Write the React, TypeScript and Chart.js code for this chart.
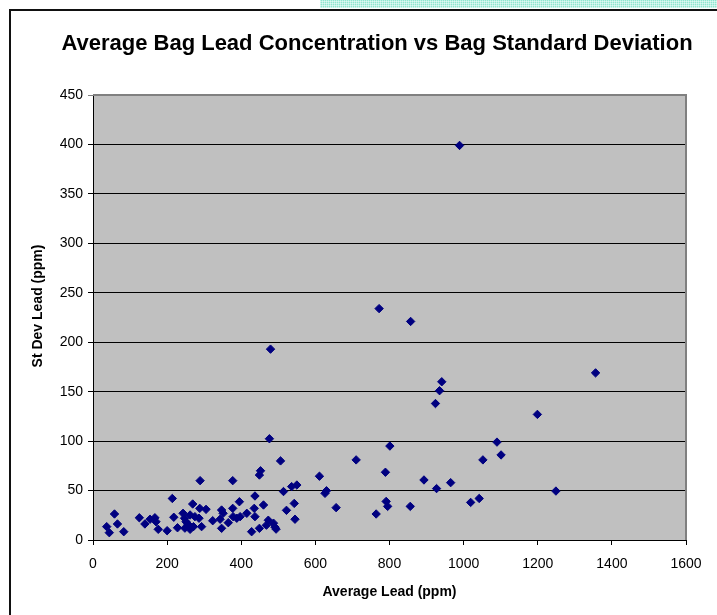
import React, { useEffect, useRef } from "react";
import { Chart, registerables } from "chart.js";

Chart.register(...registerables);

const chartTitle = "Average Bag Lead Concentration vs Bag Standard Deviation";
const xAxisTitle = "Average Lead (ppm)";
const yAxisTitle = "St Dev Lead (ppm)";

const avgLead = [
  37, 44, 58, 66, 83, 125, 140, 154, 167, 170, 176, 200, 214, 218, 228, 243, 247, 251, 257, 248,
  262, 262, 269, 271, 275, 288, 289, 293, 286, 305, 323, 343, 347, 351, 347, 365, 377, 377, 378, 388,
  395, 397, 415, 428, 437, 435, 437, 449, 452, 449, 460, 468, 473, 476, 479, 487, 491, 494, 506, 514,
  522, 536, 543, 545, 550, 611, 626, 630, 656, 710, 764, 772, 789, 791, 795, 801, 856, 857, 893, 924,
  927, 935, 941, 965, 989, 1019, 1042, 1052, 1090, 1101, 1199, 1249, 1356,
];
const stDevLead = [
  13.5, 7.4, 26.3, 16.2, 8.4, 22.5, 16.2, 21, 22.5, 18.5, 10.8, 9.4, 42, 23, 12.4, 27, 22, 18.5, 15.7, 12,
  10.8, 25.3, 36.4, 13.5, 23.6, 32, 60, 13.5, 22, 31, 19.5, 21, 30.3, 27, 11.8, 17.5, 60, 32, 23.6, 22,
  38.7, 23.6, 27, 8.4, 44.5, 32, 23.6, 65.7, 70, 11.8, 35.4, 15, 20, 102.4, 193, 17, 13, 11, 80, 49,
  30, 54, 37, 21, 55.6, 64.5, 47.2, 49.8, 32.7, 81, 26.3, 234, 68.5, 39, 34, 95, 34, 221, 60.7, 138,
  52, 151, 160, 58, 399, 38, 42, 81, 99, 86, 127, 49.5, 169,
];

const xMin = 0, xMax = 1600, xStep = 200;
const yMin = 0, yMax = 450, yStep = 50;

const FONT = "'Liberation Sans', Arial, sans-serif";

const plotBg = {
  id: "plotBg",
  beforeDraw(chart: any) {
    const { ctx, chartArea } = chart;
    ctx.save();
    ctx.fillStyle = "#c0c0c0";
    ctx.fillRect(chartArea.left, chartArea.top, chartArea.right - chartArea.left, chartArea.bottom - chartArea.top);
    ctx.restore();
  },
  beforeDatasetsDraw(chart: any) {
    const { ctx, chartArea } = chart;
    ctx.save();
    ctx.strokeStyle = "#808080";
    ctx.lineWidth = 2;
    ctx.beginPath();
    ctx.moveTo(chartArea.left, chartArea.top);
    ctx.lineTo(chartArea.right, chartArea.top);
    ctx.lineTo(chartArea.right, chartArea.bottom);
    ctx.stroke();
    ctx.restore();
  },
  afterDraw(chart: any) {
    const { ctx } = chart;
    ctx.save();
    ctx.fillStyle = "#000";
    ctx.font = `bold 22px ${FONT}`;
    ctx.textAlign = "center";
    ctx.textBaseline = "middle";
    ctx.fillText(chartTitle, 377, 44);
    ctx.font = `bold 14px ${FONT}`;
    ctx.translate(38, 306);
    ctx.rotate(-Math.PI / 2);
    ctx.fillText(yAxisTitle, 0, 0);
    ctx.restore();
  },
};

export default function App() {
  const ref = useRef<HTMLCanvasElement | null>(null);
  useEffect(() => {
    if (!ref.current) return;
    const data = avgLead.map((x, i) => ({ x, y: stDevLead[i] }));
    const chart = new Chart(ref.current, {
      type: "scatter",
      data: {
        datasets: [
          {
            label: "Bags",
            data,
            pointStyle: "rectRot",
            pointRadius: 4.2,
            pointBorderWidth: 1,
            backgroundColor: "#000080",
            borderColor: "#000080",
          },
        ],
      },
      options: {
        responsive: false,
        animation: false,
        layout: { padding: { left: 10, right: 31, top: 95, bottom: 0 } },
        plugins: {
          legend: { display: false },
          tooltip: { enabled: false },
          title: { display: false },
        },
        scales: {
          x: {
            type: "linear",
            min: xMin,
            max: xMax,
            afterFit(scale: any) {
              scale.height = 75;
            },
            ticks: {
              stepSize: xStep,
              color: "#000",
              padding: 11,
              maxRotation: 0,
              font: { family: FONT, size: 14 },
              callback: (v: any) => String(v),
            },
            grid: {
              drawOnChartArea: false,
              drawTicks: true,
              tickLength: 5,
              color: "#000",
            },
            border: { color: "#000", width: 1 },
            title: {
              display: true,
              text: xAxisTitle,
              color: "#000",
              font: { family: FONT, size: 14, weight: "bold" },
              padding: { top: 0, bottom: 14 },
            },
          },
          y: {
            type: "linear",
            min: yMin,
            max: yMax,
            afterFit(scale: any) {
              scale.width = 83;
            },
            ticks: {
              stepSize: yStep,
              color: "#000",
              padding: 5,
              font: { family: FONT, size: 14 },
              callback: (v: any) => String(v),
            },
            grid: {
              drawTicks: true,
              tickLength: 5,
              color: (c: any) => (c.tick && c.tick.value === yMax ? "#808080" : "#000"),
            },
            border: { color: "#000", width: 1 },
            title: { display: false, text: yAxisTitle },
          },
        },
      },
      plugins: [plotBg],
    });
    return () => chart.destroy();
  }, []);

  return (
    <div style={{ position: "absolute", left: 0, top: 0, width: 717, height: 615, background: "#fff", overflow: "hidden" }}>
      <div
        style={{
          position: "absolute",
          left: 320,
          top: 0,
          width: 397,
          height: 8,
          backgroundColor: "#8fe6cf",
          backgroundImage:
            "linear-gradient(90deg, rgba(255,255,255,0.45) 50%, transparent 50%), linear-gradient(0deg, rgba(255,255,255,0.45) 50%, transparent 50%)",
          backgroundSize: "2px 2px, 2px 2px",
        }}
      />
      <div
        style={{
          position: "absolute",
          left: 9,
          top: 9,
          width: 720,
          height: 620,
          borderLeft: "2px solid #111",
          borderTop: "2px solid #111",
        }}
      />
      <canvas ref={ref} width={717} height={615} style={{ position: "absolute", left: 0, top: 0, width: 717, height: 615 }} />
    </div>
  );
}
